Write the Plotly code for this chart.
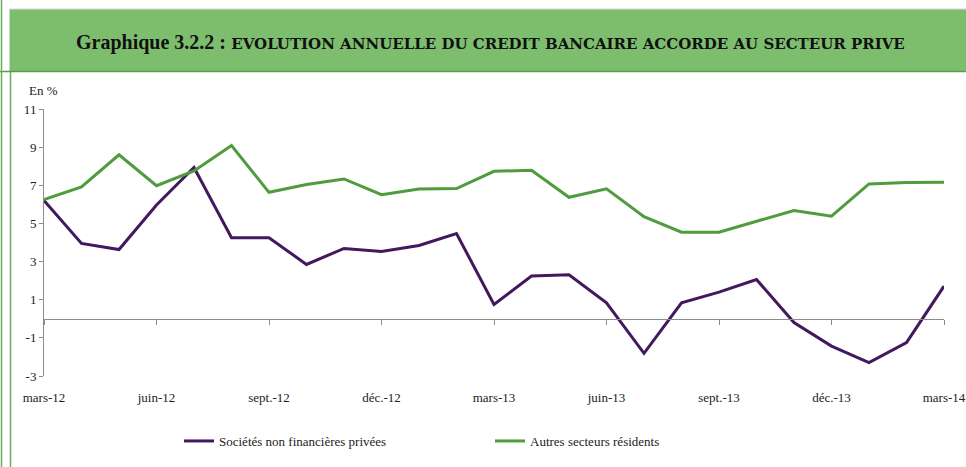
import plotly.graph_objects as go

months = ["mars-12", "avr.-12", "mai-12", "juin-12", "juil.-12", "août-12", "sept.-12", "oct.-12",
          "nov.-12", "déc.-12", "janv.-13", "févr.-13", "mars-13", "avr.-13", "mai-13", "juin-13",
          "juil.-13", "août-13", "sept.-13", "oct.-13", "nov.-13", "déc.-13", "janv.-14", "févr.-14", "mars-14"]

societes = [6.2, 3.95, 3.63, 5.97, 7.93, 4.25, 4.25, 2.85, 3.69, 3.53, 3.84, 4.47,
            0.75, 2.24, 2.31, 0.84, -1.81, 0.84, 1.4, 2.06, -0.2, -1.43, -2.3, -1.25, 1.71]
autres = [6.25, 6.91, 8.6, 6.98, 7.75, 9.08, 6.63, 7.04, 7.33, 6.51, 6.81, 6.83,
          7.73, 7.79, 6.37, 6.81, 5.35, 4.54, 4.54, 5.12, 5.68, 5.38, 7.07, 7.14, 7.16]

y_ticks = [-3, -1, 1, 3, 5, 7, 9, 11]
y_tick_labels = [str(v) for v in y_ticks]
x_tick_idx = list(range(0, 25, 3))
x_tick_labels = [months[i] for i in x_tick_idx]

W, H = 966, 467
ML, MR, MT, MB = 44, 22, 109, 91
PW, PH = W - ML - MR, H - MT - MB

def px_x(px):
    return (px - ML) / PW

def px_y(py):
    return (H - MB - py) / PH

FONT = "Liberation Serif, Times New Roman, serif"
TFONT = "DejaVu Serif, serif"
PURPLE = "#42185f"
GREEN = "#4f9c3e"

xs = list(range(len(months)))
fig = go.Figure()
fig.add_trace(go.Scatter(x=xs, y=societes, mode="lines", name="Sociétés non financières privées",
                         line=dict(color=PURPLE, width=3)))
fig.add_trace(go.Scatter(x=xs, y=autres, mode="lines", name="Autres secteurs résidents",
                         line=dict(color=GREEN, width=3)))

ymin, ymax = -3, 11
zero_pos = (0 - ymin) / (ymax - ymin)

fig.update_layout(
    width=W, height=H,
    margin=dict(l=ML, r=MR, t=MT, b=MB, autoexpand=False),
    paper_bgcolor="white", plot_bgcolor="white",
    font=dict(family=FONT, size=13, color="#222"),
    xaxis=dict(range=[0, 24], tickvals=x_tick_idx, ticktext=x_tick_labels,
               showgrid=False, zeroline=False, showline=False, ticks="",
               ticklabelstandoff=12,
               tickfont=dict(family=FONT, size=13, color="#222")),
    xaxis2=dict(range=[0, 24], overlaying="x", anchor="free", position=zero_pos,
                tickvals=x_tick_idx, showticklabels=False, ticks="outside", ticklen=5,
                tickcolor="#8c8c8c", showline=True, linecolor="#8c8c8c", linewidth=1,
                showgrid=False, zeroline=False, side="bottom"),
    yaxis=dict(range=[ymin, ymax], tickvals=y_ticks, ticktext=y_tick_labels,
               showgrid=False, zeroline=False,
               showline=True, linecolor="#8c8c8c", linewidth=1, ticks="outside",
               ticklen=4, tickcolor="#8c8c8c",
               tickfont=dict(family=FONT, size=13, color="#222")),
    showlegend=True,
    legend=dict(orientation="h", x=px_x(179), y=px_y(441), xanchor="left", yanchor="middle",
                font=dict(family=FONT, size=13, color="#222"), itemwidth=30,
                entrywidth=266, entrywidthmode="pixels", bgcolor="rgba(0,0,0,0)"),
)
fig.add_trace(go.Scatter(x=[0, 24], y=[None, None], xaxis="x2", showlegend=False, hoverinfo="skip"))

shapes = [
    dict(type="rect", xref="paper", yref="paper", x0=px_x(9.5), x1=px_x(970), y0=px_y(71), y1=px_y(9),
         fillcolor="#7dbe6e", line=dict(width=0), layer="below"),
    dict(type="line", xref="paper", yref="paper", x0=px_x(9.5), x1=px_x(970), y0=px_y(9), y1=px_y(9),
         line=dict(color="#d9d9d9", width=1)),
    dict(type="line", xref="paper", yref="paper", x0=px_x(0), x1=px_x(970), y0=px_y(71.5), y1=px_y(71.5),
         line=dict(color="#5a9e4b", width=1.5)),
    dict(type="line", xref="paper", yref="paper", x0=px_x(1.5), x1=px_x(1.5), y0=px_y(0), y1=px_y(470),
         line=dict(color="#6ab05a", width=1.5)),
    dict(type="line", xref="paper", yref="paper", x0=px_x(10.5), x1=px_x(10.5), y0=px_y(72), y1=px_y(470),
         line=dict(color="#6ab05a", width=1.5)),
]
fig.update_layout(shapes=shapes)

fig.add_annotation(xref="paper", yref="paper", x=px_x(490), y=px_y(42), xanchor="center", yanchor="middle",
                   showarrow=False,
                   text="<b><span style='font-family:Liberation Serif;font-size:20px'>Graphique 3.2.2 :</span> EVOLUTION ANNUELLE DU CREDIT BANCAIRE ACCORDE AU SECTEUR PRIVE</b>",
                   font=dict(family=TFONT, size=15, color="#111"))
fig.add_annotation(xref="paper", yref="paper", x=px_x(27), y=px_y(90), xanchor="left", yanchor="middle",
                   showarrow=False, text="En %", font=dict(family=FONT, size=13, color="#222"))

fig.write_html("out.html", config={"displayModeBar": False},
               post_script="document.body.style.margin='0';")
